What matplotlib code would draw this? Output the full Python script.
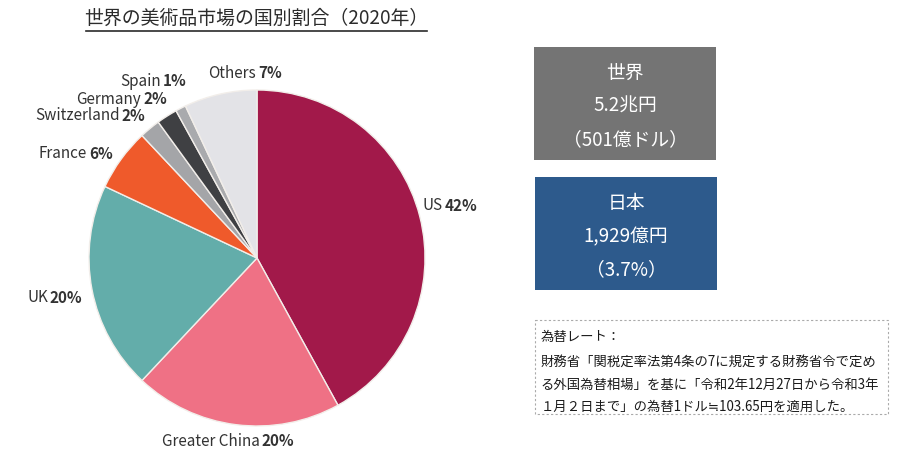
import numpy as np
import matplotlib.pyplot as plt
from matplotlib.patches import Rectangle

plt.rcParams['font.family'] = ['Noto Sans CJK JP', 'DejaVu Sans']

# データ
countries = ['US', 'Greater China', 'UK', 'France', 'Switzerland', 'Germany', 'Spain', 'Others']
shares = [42, 20, 20, 6, 2, 2, 1, 7]
colors = ['#A2194A', '#EF7185', '#63ADAA', '#EF5A2B', '#A4A5A8', '#3F4043', '#A9AAAD', '#E3E3E7']

title = '世界の美術品市場の国別割合（2020年）'
world_lines = ['世界', '5.2兆円', '（501億ドル）']
japan_lines = ['日本', '1,929億円', '（3.7%）']
note_lines = ['為替レート：',
              '財務省「関税定率法第4条の7に規定する財務省令で定め',
              'る外国為替相場」を基に「令和2年12月27日から令和3年',
              '１月２日まで」の為替1ドル≒103.65円を適用した。']

# ラベル位置（ピクセル、名前と%の境目）
label_pos = {'US': (444, 206), 'Greater China': (261, 441), 'UK': (49, 298),
             'France': (88, 154), 'Switzerland': (121, 116), 'Germany': (142, 99),
             'Spain': (162, 81), 'Others': (257, 73)}

W, H = 900, 459
fig = plt.figure(figsize=(W / 100, H / 100), dpi=100)

# 背景用の軸（ピクセル座標）
bg = fig.add_axes([0, 0, 1, 1])
bg.set_xlim(0, W)
bg.set_ylim(H, 0)
bg.axis('off')

# 円グラフ
cx, cy, r = 257, 258, 168
ax = fig.add_axes([(cx - r) / W, (H - cy - r) / H, 2 * r / W, 2 * r / H])
ax.pie(shares, colors=colors, startangle=90, counterclock=False, radius=1,
       wedgeprops=dict(edgecolor='#F2EEEA', linewidth=1.0))
ax.set_xlim(-1, 1)
ax.set_ylim(-1, 1)
ax.set_aspect('equal')
ax.axis('off')

for name, pct in zip(countries, shares):
    x, y = label_pos[name]
    bg.text(x - 1, y, name, ha='right', va='center', fontsize=11, color='#333333')
    bg.text(x + 1, y, f'{pct}%', ha='left', va='center', fontsize=11,
            color='#333333', fontweight='bold')

# タイトル
bg.text(256, 18, title, ha='center', va='center', fontsize=13.6, color='#2B2B2B')
bg.plot([86, 427], [31, 31], color='#2B2B2B', lw=1.2)

# 世界・日本のボックス
bg.add_patch(Rectangle((534, 47), 182, 113, facecolor='#747474', edgecolor='none'))
for i, s in enumerate(world_lines):
    bg.text(625, 73 + i * 33.5, s, ha='center', va='center', fontsize=13.5, color='white')

bg.add_patch(Rectangle((535, 177), 182, 113, facecolor='#2D5A8C', edgecolor='none'))
for i, s in enumerate(japan_lines):
    bg.text(626, 203 + i * 33.5, s, ha='center', va='center', fontsize=13.5, color='white')

# 注記
bg.add_patch(Rectangle((535, 320), 353, 94, facecolor='none', edgecolor='#AAAAAA',
                       linestyle=(0, (2, 2)), lw=0.8))
note_y = [337, 362, 385, 407]
for y, s in zip(note_y, note_lines):
    bg.text(541, y, s, ha='left', va='center', fontsize=9.6, color='#1A1A1A')

fig.savefig('out.png', dpi=100)
